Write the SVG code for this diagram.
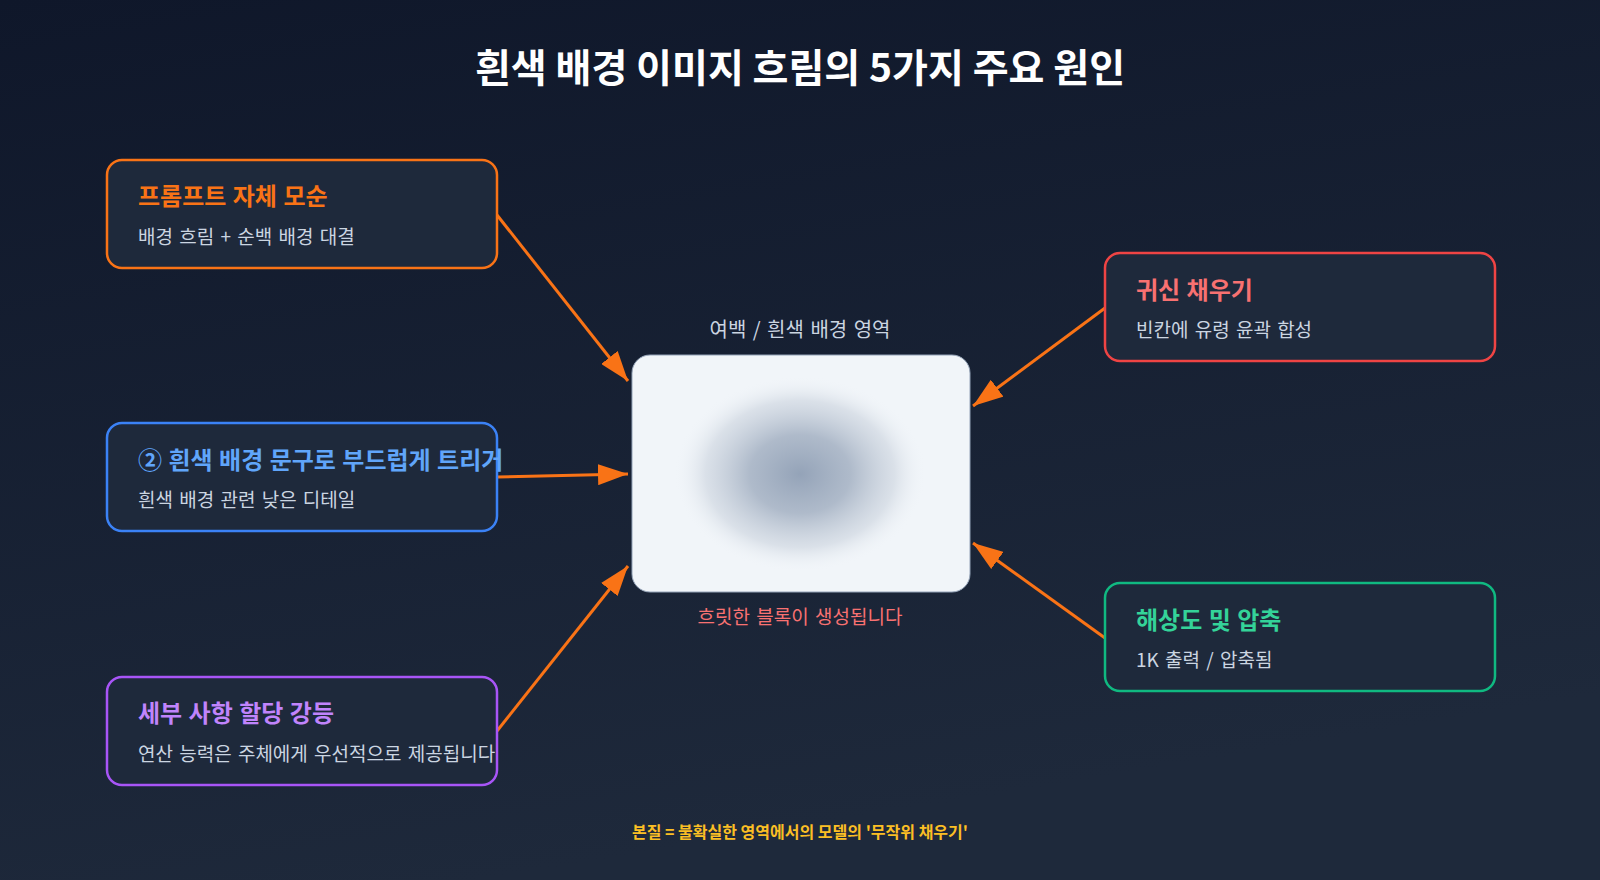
<svg xmlns="http://www.w3.org/2000/svg" width="1600" height="880" viewBox="0 0 1600 880">
<defs>
<linearGradient id="bg" x1="0" y1="0" x2="0.3" y2="1">
<stop offset="0" stop-color="#0f172a"/>
<stop offset="1" stop-color="#1e293b"/>
</linearGradient>
<radialGradient id="blur" cx="0.5" cy="0.5" r="0.5">
<stop offset="0" stop-color="#94a3b8" stop-opacity="1"/>
<stop offset="0.4" stop-color="#a3b0c2" stop-opacity="0.85"/>
<stop offset="0.75" stop-color="#c3ccd8" stop-opacity="0.5"/>
<stop offset="1" stop-color="#f1f5f9" stop-opacity="0"/>
</radialGradient>
<marker id="arr" markerWidth="10" markerHeight="7" refX="10" refY="3.5" orient="auto">
<polygon points="0 0,10 3.5,0 7" fill="#f97316"/>
</marker>
<style>
text{font-family:"Noto Sans CJK KR","Noto Sans",sans-serif}
.box{fill:#1e293b;stroke-width:2.5}
.t{font-size:24px;font-weight:700;word-spacing:1px}
.s{font-size:19px;fill:#cbd5e1;word-spacing:2px}
.edge{stroke:#f97316;stroke-width:3;fill:none;marker-end:url(#arr)}
</style>
</defs>
<rect width="1600" height="880" fill="url(#bg)"/>
<text x="800" y="82" text-anchor="middle" font-size="39" font-weight="700" fill="#ffffff">흰색 배경 이미지 흐림의 5가지 주요 원인</text>

<g id="center">
<text x="800" y="337" text-anchor="middle" font-size="20" fill="#cbd5e1" word-spacing="2">여백 / 흰색 배경 영역</text>
<rect x="632" y="355" width="338" height="237" rx="18" fill="#f1f5f9" stroke="#94a3b8" stroke-width="1"/>
<ellipse cx="800" cy="474" rx="126" ry="98" fill="url(#blur)"/>
<text x="800" y="624" text-anchor="middle" font-size="19" fill="#f87171" word-spacing="2">흐릿한 블록이 생성됩니다</text>
</g>

<g id="connectors">
<line class="edge" x1="497" y1="215" x2="628" y2="381"/>
<line class="edge" x1="497" y1="477" x2="628" y2="474"/>
<line class="edge" x1="497" y1="731" x2="628" y2="566"/>
<line class="edge" x1="1105" y1="308" x2="973" y2="406"/>
<line class="edge" x1="1105" y1="638" x2="973" y2="543"/>
</g>

<g id="n1">
<rect class="box" x="107" y="160" width="390" height="108" rx="15" stroke="#f97316"/>
<text class="t" x="138" y="205" fill="#f97316">프롬프트 자체 모순</text>
<text class="s" x="138" y="244">배경 흐림 + 순백 배경 대결</text>
</g>
<g id="n2">
<rect class="box" x="107" y="423" width="390" height="108" rx="15" stroke="#3b82f6"/>
<text class="t" x="138" y="469" fill="#60a5fa">② 흰색 배경 문구로 부드럽게 트리거</text>
<text class="s" x="138" y="507">흰색 배경 관련 낮은 디테일</text>
</g>
<g id="n3">
<rect class="box" x="107" y="677" width="390" height="108" rx="15" stroke="#a855f7"/>
<text class="t" x="138" y="722" fill="#c084fc">세부 사항 할당 강등</text>
<text class="s" x="138" y="761">연산 능력은 주체에게 우선적으로 제공됩니다</text>
</g>
<g id="n4">
<rect class="box" x="1105" y="253" width="390" height="108" rx="15" stroke="#ef4444"/>
<text class="t" x="1136" y="299" fill="#f87171">귀신 채우기</text>
<text class="s" x="1136" y="337">빈칸에 유령 윤곽 합성</text>
</g>
<g id="n5">
<rect class="box" x="1105" y="583" width="390" height="108" rx="15" stroke="#10b981"/>
<text class="t" x="1136" y="629" fill="#34d399">해상도 및 압축</text>
<text class="s" x="1136" y="667">1K 출력 / 압축됨</text>
</g>

<text x="800" y="838" text-anchor="middle" font-size="16" font-weight="700" fill="#fbbf24">본질 = 불확실한 영역에서의 모델의 '무작위 채우기'</text>
</svg>
